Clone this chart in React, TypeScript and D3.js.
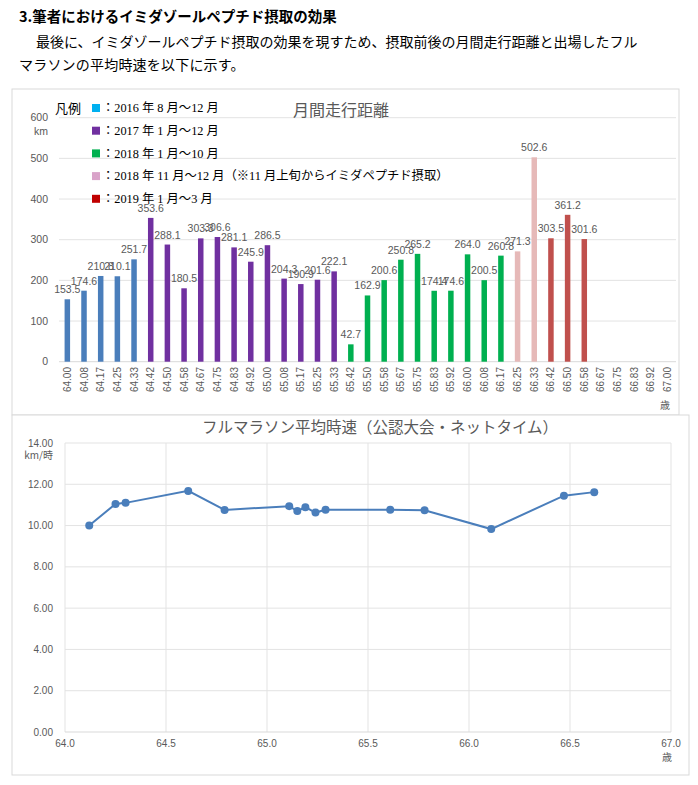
import React from "react";
import * as d3 from "d3";

// 月間走行距離 (km) — age in years at each month
const ageLabels = [
  "64.00", "64.08", "64.17", "64.25", "64.33", "64.42", "64.50", "64.58",
  "64.67", "64.75", "64.83", "64.92", "65.00", "65.08", "65.17", "65.25",
  "65.33", "65.42", "65.50", "65.58", "65.67", "65.75", "65.83", "65.92",
  "66.00", "66.08", "66.17", "66.25", "66.33", "66.42", "66.50", "66.58",
  "66.67", "66.75", "66.83", "66.92", "67.00",
];
const distances = [
  153.5, 174.6, 210.8, 210.1, 251.7,
  353.6, 288.1, 180.5, 303.3, 306.6, 281.1, 245.9, 286.5, 204.3, 190.9, 201.6, 222.1,
  42.7, 162.9, 200.6, 250.8, 265.2, 174.4, 174.6, 264.0, 200.5, 260.8,
  271.3, 502.6,
  303.5, 361.2, 301.6,
];
// period index of each bar
const barPeriod = [
  0, 0, 0, 0, 0,
  1, 1, 1, 1, 1, 1, 1, 1, 1, 1, 1, 1,
  2, 2, 2, 2, 2, 2, 2, 2, 2, 2,
  3, 3,
  4, 4, 4,
];
const barColors = ["#4a7ebb", "#7030a0", "#00b050", "#e6b9b8", "#c0504d"];
const legendColors = ["#00b0f0", "#7030a0", "#00b050", "#d9a3c9", "#c00000"];
const legendLabels = [
  "：2016 年 8 月～12 月",
  "：2017 年 1 月～12 月",
  "：2018 年 1 月～10 月",
  "：2018 年 11 月～12 月（※11 月上旬からイミダペプチド摂取）",
  "：2019 年 1 月～3 月",
];
const distanceTicks = [0, 100, 200, 300, 400, 500, 600];

// フルマラソン平均時速 (km/時)
const raceAges = [
  64.12, 64.25, 64.3, 64.61, 64.79, 65.11, 65.15, 65.19, 65.24, 65.29,
  65.61, 65.78, 66.11, 66.47, 66.62,
];
const raceSpeeds = [
  10.0, 11.05, 11.1, 11.68, 10.76, 10.94, 10.7, 10.89, 10.63, 10.77,
  10.77, 10.74, 9.83, 11.45, 11.62,
];
const speedTicks = [0, 2, 4, 6, 8, 10, 12, 14];
const ageTicks = [64.0, 64.5, 65.0, 65.5, 66.0, 66.5, 67.0];

const AXIS_FONT = "'Liberation Sans', 'Noto Sans CJK JP', sans-serif";
const JP_FONT = "'Noto Sans CJK JP', sans-serif";
const GRID = "#e3e3e3";
const AXIS_TEXT = "#595959";

const BarChart: React.FC = () => {
  const x = d3.scaleBand<string>().domain(ageLabels).range([59, 676]);
  const y = d3.scaleLinear().domain([0, 600]).range([361.7, 117.7]);
  const barW = 5.5;

  return (
    <g>
      <rect x={12} y={89} width={667} height={326} fill="white" stroke="#d9d9d9" />
      {distanceTicks.map((t) => (
        <g key={t}>
          <line x1={59} x2={676} y1={y(t)} y2={y(t)} stroke={t === 0 ? "#d9d9d9" : GRID} />
          <text x={48} y={y(t)} dy="0.35em" textAnchor="end" fontSize={10.5} fill={AXIS_TEXT} fontFamily={AXIS_FONT}>
            {t}
          </text>
        </g>
      ))}
      <text x={48} y={y(600) + 14} dy="0.35em" textAnchor="end" fontSize={10.5} fill={AXIS_TEXT} fontFamily={AXIS_FONT}>
        km
      </text>
      <text x={341} y={110} dy="0.35em" textAnchor="middle" fontSize={16} fill={AXIS_TEXT} fontFamily={JP_FONT}>
        月間走行距離
      </text>

      {distances.map((d, i) => {
        const cx = x(ageLabels[i])! + x.bandwidth() / 2;
        return (
          <g key={i}>
            <rect x={cx - barW / 2} y={y(d)} width={barW} height={y(0) - y(d)} fill={barColors[barPeriod[i]]} />
            <text x={cx} y={y(d) - 6} textAnchor="middle" fontSize={10.5} fill={AXIS_TEXT} fontFamily={AXIS_FONT}>
              {d.toFixed(1)}
            </text>
          </g>
        );
      })}

      {ageLabels.map((a) => {
        const cx = x(a)! + x.bandwidth() / 2;
        return (
          <text key={a} transform={`translate(${cx},367) rotate(-90)`} dy="0.35em" textAnchor="end" fontSize={10} fill={AXIS_TEXT} fontFamily={AXIS_FONT}>
            {a}
          </text>
        );
      })}
      <text x={665} y={405} dy="0.35em" textAnchor="middle" fontSize={10} fill={AXIS_TEXT} fontFamily={JP_FONT}>
        歳
      </text>

      <text x={55} y={108} dy="0.35em" fontSize={13} fill="#000" fontFamily={JP_FONT}>
        凡例
      </text>
      {legendLabels.map((l, i) => (
        <g key={l} transform={`translate(0,${108 + i * 22.7})`}>
          <rect x={92} y={-4} width={8} height={8} fill={legendColors[i]} />
          <text x={102} y={0} dy="0.35em" fontSize={12.3} fill="#000" fontFamily={"'Liberation Serif', 'Noto Sans CJK JP', serif"}>
            {l}
          </text>
        </g>
      ))}
    </g>
  );
};

const LineChart: React.FC = () => {
  const x = d3.scaleLinear().domain([64, 67]).range([65, 671]);
  const y = d3.scaleLinear().domain([0, 14]).range([732, 443]);
  const pts = raceAges.map((a, i) => [a, raceSpeeds[i]] as [number, number]);
  const line = d3
    .line<[number, number]>()
    .x((d) => x(d[0]))
    .y((d) => y(d[1]));

  return (
    <g>
      <rect x={12} y={415} width={677} height={360} fill="white" stroke="#d9d9d9" />
      <text x={380} y={428} dy="0.35em" textAnchor="middle" fontSize={15.5} fill={AXIS_TEXT} fontFamily={JP_FONT}>
        フルマラソン平均時速（公認大会・ネットタイム）
      </text>
      {ageTicks.map((t) => (
        <g key={t}>
          <line x1={x(t)} x2={x(t)} y1={y(14)} y2={y(0)} stroke={GRID} />
          <text x={x(t)} y={743} dy="0.35em" textAnchor="middle" fontSize={10} fill={AXIS_TEXT} fontFamily={AXIS_FONT}>
            {t.toFixed(1)}
          </text>
        </g>
      ))}
      {speedTicks.map((t) => (
        <g key={t}>
          <line x1={x(64)} x2={x(67)} y1={y(t)} y2={y(t)} stroke={t === 0 ? "#d9d9d9" : GRID} />
          <text x={53} y={y(t)} dy="0.35em" textAnchor="end" fontSize={10} fill={AXIS_TEXT} fontFamily={AXIS_FONT}>
            {t.toFixed(2)}
          </text>
        </g>
      ))}
      <text x={53} y={y(14) + 12} dy="0.35em" textAnchor="end" fontSize={10} fill={AXIS_TEXT} fontFamily={JP_FONT}>
        km/時
      </text>
      <text x={667} y={757} dy="0.35em" textAnchor="middle" fontSize={10} fill={AXIS_TEXT} fontFamily={JP_FONT}>
        歳
      </text>
      <path d={line(pts) ?? ""} fill="none" stroke="#4a7ebb" strokeWidth={2} />
      {pts.map((p, i) => (
        <circle key={i} cx={x(p[0])} cy={y(p[1])} r={4} fill="#4a7ebb" />
      ))}
    </g>
  );
};

export default function App() {
  return (
    <div style={{ position: "absolute", left: 0, top: 0, background: "white" }}>
      <svg width={698} height={785} style={{ display: "block" }}>
        <rect width={698} height={785} fill="white" />
        <text x={19} y={17} dy="0.35em" fontSize={14.5} fontWeight="bold" fill="#000" fontFamily={JP_FONT}>
          3.筆者におけるイミダゾールペプチド摂取の効果
        </text>
        <text x={22} y={42} dy="0.35em" fontSize={14} fill="#000" fontFamily={JP_FONT} style={{ whiteSpace: "pre" }}>
          {"\u3000最後に、イミダゾールペプチド摂取の効果を現すため、摂取前後の月間走行距離と出場したフル"}
        </text>
        <text x={19} y={65} dy="0.35em" fontSize={14} letterSpacing={0.2} fill="#000" fontFamily={JP_FONT}>
          マラソンの平均時速を以下に示す。
        </text>
        <BarChart />
        <LineChart />
      </svg>
    </div>
  );
}
